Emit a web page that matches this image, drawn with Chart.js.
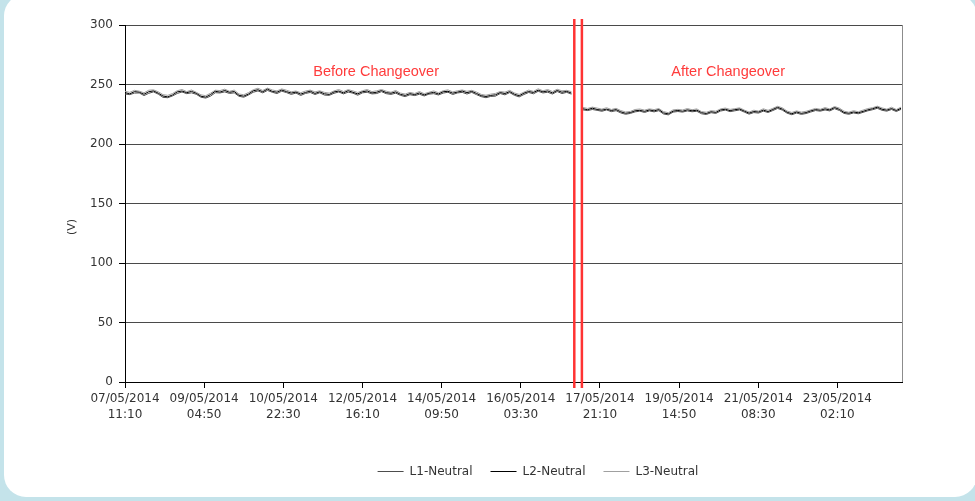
<!DOCTYPE html>
<html><head><meta charset="utf-8">
<script src="https://cdn.jsdelivr.net/npm/chart.js@4.4.1/dist/chart.umd.min.js"></script>
<style>
html,body{margin:0;padding:0;}
body{width:975px;height:501px;overflow:hidden;position:relative;background:#c4e3ea;}
#panel{position:absolute;left:4px;top:-6px;width:973px;height:503px;background:#fff;border-radius:22px;}
#wrap{position:absolute;left:0;top:0;width:975px;height:501px;}
</style></head><body>
<div id="panel"></div>
<div id="wrap"><canvas id="c"></canvas></div>
<script>
const SERIES_NAMES = ['L1-Neutral', 'L2-Neutral', 'L3-Neutral'];
const SERIES_COLORS = ['#4d4d4d', '#000000', '#a0a0a0'];
const SAMPLE_STEP = 15;      // 10-minute samples between plotted readings
const BEFORE_START = 0;      // sample index of first reading before changeover
const AFTER_START = 1446;    // sample index of first reading after changeover
const X_MAX = 2454;
const TICK_POSITIONS = [0, 250, 500, 750, 1000, 1250, 1500, 1750, 2000, 2250];
const TICK_LABELS = [
  ['07/05/2014', '11:10'], ['09/05/2014', '04:50'], ['10/05/2014', '22:30'],
  ['12/05/2014', '16:10'], ['14/05/2014', '09:50'], ['16/05/2014', '03:30'],
  ['17/05/2014', '21:10'], ['19/05/2014', '14:50'], ['21/05/2014', '08:30'],
  ['23/05/2014', '02:10']
];
const CHANGEOVER_LINES = [1419, 1443];
const ANNOTATION_TEXTS = ['Before Changeover', 'After Changeover'];
const ANNOTATION_X = [793, 1905];
const ANNOTATION_Y = 257.2;
const Y_TITLE = '(V)';

const L1_BEFORE = [242.0,241.5,242.8,242.9,240.7,242.6,243.8,241.9,239.2,238.9,
240.4,242.5,243.7,242.3,243.0,241.8,239.3,238.6,240.2,243.1,
242.9,243.8,242.5,243.0,240.1,239.3,241.2,243.5,244.6,243.0,
245.0,243.5,242.4,244.4,243.2,241.7,242.8,240.8,242.5,243.3,
241.6,243.0,241.1,240.9,242.6,243.7,242.1,243.6,242.7,241.0,
243.0,243.5,242.1,242.4,244.0,242.3,241.7,242.7,240.9,239.8,
241.4,240.7,241.8,240.4,241.9,242.3,241.2,242.8,243.5,241.6,
242.9,243.4,242.0,243.4,241.5,239.8,238.9,240.0,240.2,242.4,
241.3,243.2,240.9,239.6,241.6,243.3,242.2,244.3,242.9,243.5,
242.0,244.1,242.4,243.4,241.9];
const L2_BEFORE = [243.2,242.1,244.0,243.5,241.8,243.9,244.6,242.7,240.3,239.6,
241.2,243.8,244.5,243.1,244.2,242.6,240.1,239.4,241.5,244.3,
243.6,245.0,243.4,244.1,240.9,240.2,242.0,244.7,245.6,243.9,
246.1,244.2,243.5,245.3,244.0,242.8,243.6,241.9,243.3,244.4,
242.5,243.8,242.2,241.6,243.7,244.5,243.0,244.8,243.4,242.1,
243.9,244.6,242.9,243.5,244.9,243.2,242.6,243.8,241.7,240.8,
242.3,241.5,242.9,241.2,242.6,243.4,242.0,243.9,244.3,242.7,
243.6,244.5,243.1,244.2,242.5,240.6,239.9,240.8,241.3,243.2,
242.4,244.0,241.8,240.5,242.7,244.1,243.3,245.2,243.8,244.6,
242.9,245.0,243.5,244.2,242.8];
const L3_BEFORE = [244.3,243.4,245.1,244.4,243.0,245.2,245.5,243.9,241.5,240.9,
242.4,244.8,245.8,244.0,245.4,243.5,241.3,240.6,242.7,245.2,
244.9,246.1,244.3,245.3,242.0,241.4,243.2,245.6,246.9,245.0,
247.0,245.4,244.6,246.3,245.2,243.9,244.5,243.1,244.5,245.3,
243.8,244.7,243.4,242.8,244.6,245.8,244.1,245.7,244.6,243.3,
244.8,245.8,244.0,244.7,245.8,244.4,243.5,245.0,242.8,242.0,
243.4,242.5,244.1,242.3,243.5,244.6,243.1,244.8,245.5,243.8,
244.7,245.4,244.3,245.1,243.7,241.7,241.0,241.9,242.5,244.1,
243.6,245.1,242.9,241.7,243.6,245.3,244.2,246.4,244.7,245.8,
244.1,246.0,244.7,245.1,244.0];

const L1_AFTER = [228.7,228.1,229.0,228.3,227.5,228.6,227.2,228.0,226.1,225.0,
225.7,227.0,227.6,226.5,227.8,227.0,228.0,225.2,224.5,226.8,
227.3,226.8,227.8,227.1,227.5,225.4,224.8,226.3,225.7,227.7,
228.5,227.2,227.9,228.6,226.8,225.1,226.4,226.0,227.6,226.5,
228.1,229.9,228.5,225.9,224.6,226.0,224.9,225.6,226.9,228.1,
227.6,228.6,227.8,229.7,228.2,225.7,225.0,226.1,225.4,226.6,
227.9,228.8,230.0,228.3,227.6,229.0,227.3,229.1];
const L2_AFTER = [229.6,228.8,230.1,229.0,228.4,229.3,228.1,228.9,227.0,225.8,
226.4,227.9,228.3,227.4,228.6,227.8,228.9,226.1,225.3,227.6,
228.2,227.5,228.7,227.9,228.4,226.3,225.6,227.1,226.5,228.6,
229.2,228.0,228.8,229.4,227.6,225.9,227.3,226.8,228.5,227.2,
229.0,230.8,229.3,226.7,225.4,226.9,225.7,226.4,227.8,228.9,
228.3,229.5,228.6,230.6,229.1,226.5,225.8,226.9,226.2,227.4,
228.7,229.6,230.9,229.2,228.4,229.8,228.1,230.0];
const L3_AFTER = [230.7,229.9,231.0,230.2,229.3,230.5,229.0,230.0,228.1,226.9,
227.4,229.0,229.4,228.5,229.5,228.9,229.8,227.2,226.3,228.7,
229.1,228.6,229.8,228.8,229.5,227.2,226.7,228.0,227.6,229.5,
230.2,229.1,229.7,230.4,228.5,226.9,228.4,227.7,229.6,228.3,
230.0,231.7,230.4,227.7,226.5,227.8,226.8,227.5,228.7,229.9,
229.2,230.6,229.5,231.5,230.2,227.6,226.7,228.0,227.1,228.5,
229.8,230.5,231.8,230.3,229.3,230.9,229.0,231.0];

function buildPoints(before, after) {
  const pts = before.map((v, i) => ({x: BEFORE_START + i * SAMPLE_STEP, y: v}));
  pts.push({x: (CHANGEOVER_LINES[0] + CHANGEOVER_LINES[1]) / 2, y: null});
  after.forEach((v, i) => pts.push({x: AFTER_START + i * SAMPLE_STEP, y: v}));
  return pts;
}
const SERIES_BEFORE = [L1_BEFORE, L2_BEFORE, L3_BEFORE];
const SERIES_AFTER = [L1_AFTER, L2_AFTER, L3_AFTER];

const FONT = 'DejaVu Sans';

const decor = {
  id: 'decor',
  afterLayout(chart) {
    const lg = chart.legend;
    if (lg) {
      const dx = 538 - (lg.left + lg.right) / 2;
      lg.left += dx; lg.right += dx;
      lg.top += 0.5; lg.bottom += 0.5;
    }
  },
  beforeDatasetsDraw(chart) {
    const {ctx, chartArea: a} = chart;
    ctx.save();
    ctx.strokeStyle = '#8c8c8c';
    ctx.lineWidth = 1;
    ctx.beginPath();
    ctx.moveTo(Math.round(a.right) + 0.5, a.top);
    ctx.lineTo(Math.round(a.right) + 0.5, a.bottom);
    ctx.stroke();
    ctx.restore();
  },
  afterDatasetsDraw(chart) {
    const {ctx, chartArea: a, scales: {x, y}} = chart;
    ctx.save();
    ctx.strokeStyle = '#ff3333';
    ctx.lineWidth = 2.5;
    CHANGEOVER_LINES.forEach(v => {
      const px = x.getPixelForValue(v);
      ctx.beginPath();
      ctx.moveTo(px, a.top - 6);
      ctx.lineTo(px, a.bottom + 6);
      ctx.stroke();
    });
    ctx.fillStyle = '#ff3b3b';
    ctx.font = '14.5px "Liberation Sans"';
    ctx.textAlign = 'center';
    ctx.textBaseline = 'alphabetic';
    ANNOTATION_TEXTS.forEach((t, i) => {
      ctx.fillText(t, x.getPixelForValue(ANNOTATION_X[i]), y.getPixelForValue(ANNOTATION_Y));
    });
    ctx.restore();
  },
  afterDraw(chart) {
    const {ctx} = chart;
    ctx.save();
    ctx.translate(72, 227);
    ctx.rotate(-Math.PI / 2);
    ctx.fillStyle = '#333';
    ctx.font = '11px "' + FONT + '"';
    ctx.textAlign = 'center';
    ctx.textBaseline = 'middle';
    ctx.fillText(Y_TITLE, 0, 0);
    ctx.restore();
  }
};

new Chart(document.getElementById('c'), {
  type: 'line',
  data: {
    datasets: SERIES_NAMES.map((name, s) => ({
      label: name,
      data: buildPoints(SERIES_BEFORE[s], SERIES_AFTER[s]),
      borderColor: SERIES_COLORS[s],
      backgroundColor: SERIES_COLORS[s],
      borderWidth: 1,
      pointRadius: 0,
      tension: 0,
      spanGaps: false,
      fill: false
    }))
  },
  options: {
    responsive: true,
    maintainAspectRatio: false,
    animation: false,
    devicePixelRatio: 1,
    layout: {padding: {left: 0, right: 73, top: 25, bottom: 14}},
    plugins: {
      tooltip: {enabled: false},
      legend: {
        position: 'bottom',
        labels: {
          usePointStyle: true, pointStyle: 'line', pointStyleWidth: 26,
          padding: 18, color: '#333', font: {family: FONT, size: 12}
        }
      }
    },
    scales: {
      x: {
        type: 'linear', min: 0, max: X_MAX,
        afterBuildTicks: s => { s.ticks = TICK_POSITIONS.map(v => ({value: v})); },
        afterFit: s => { s.height = 65; },
        ticks: {
          autoSkip: false, maxRotation: 0, minRotation: 0, padding: 3, color: '#333',
          font: {family: FONT, size: 12, lineHeight: 1.33},
          callback: v => TICK_LABELS[TICK_POSITIONS.indexOf(v)]
        },
        grid: {drawOnChartArea: false, drawTicks: true, tickLength: 6, color: '#000'},
        border: {color: '#000', width: 1}
      },
      y: {
        min: 0, max: 300,
        afterFit: s => { s.width = 125; },
        ticks: {stepSize: 50, padding: 6, color: '#333', font: {family: FONT, size: 12}},
        grid: {color: '#4a4a4a', tickColor: '#000', tickLength: 6, lineWidth: 1},
        border: {color: '#000', width: 1}
      }
    }
  },
  plugins: [decor]
});
</script>
</body></html>
